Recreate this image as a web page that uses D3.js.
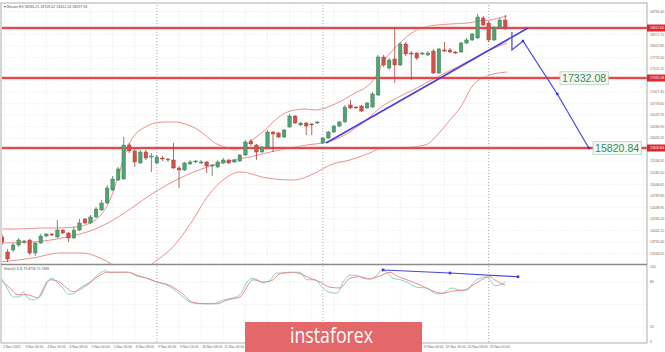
<!DOCTYPE html>
<html>
<head>
<meta charset="utf-8">
<script src="https://cdn.jsdelivr.net/npm/d3@7"></script>
<style>
body { margin: 0; background: #fff; }
svg { display: block; font-family: "Liberation Sans", Arial, sans-serif; }
</style>
</head>
<body>
<svg id="chart" width="665" height="352"></svg>
<script>
// Bitcoin H4 candles, bar 0 = 2 Nov 2020 00:00 (weekends skipped)
const firstBar = 2;
const openP = [13899,13575,13618,13726,13791,13834,13553,13769,13920,13964,13899,14050,13985,13877,14050,14288,14201,14331,14482,14633,
  14914,15130,15152,15886,15756,15497,15735,15627,15497,15605,15562,15562,15389,15346,15476,15519,15497,15519,15432,15411,
  15497,15562,15519,15540,15670,15972,15886,15735,15843,16167,16145,16059,16275,16512,16318,16361,16340,16361,15929,16037,
  16167,16296,16383,16750,16707,16728,16685,16707,16966,17787,17549,17744,17614,18068,17873,17873,17852,17830,17916,17441,
  17938,17938,17895,17895,18089,18154,18197,18629,18521,18154,18413,18586];
const highP = [13964,13640,13769,13877,13834,13856,13791,13964,13985,13985,14266,14072,14007,14115,14288,14309,14374,14547,14698,15022,
  15216,15411,16059,15929,15800,15778,15778,15713,15670,15648,15605,15929,15432,15519,15562,15562,15562,15540,15476,15562,
  15605,15584,15584,15692,15994,16016,15908,15864,16210,16188,16167,16232,16556,16534,16383,16383,16361,16404,16059,16188,
  16318,16404,16750,16858,16728,16750,16815,17031,17830,17830,17765,18413,18111,18111,17916,17895,17895,17916,17960,17981,
  18111,17981,17916,18111,18197,18305,18715,18672,18564,18456,18629,18694];
const lowP = [13726,13359,13575,13683,13748,13510,13488,13748,13899,13920,13877,13964,13791,13856,14028,14180,14180,14309,14460,14612,
  14892,15108,15130,15713,15411,15476,15562,15303,15476,15540,15519,15368,14957,15324,15454,15497,15476,15281,15216,15389,
  15476,15476,15497,15519,15648,15864,15562,15713,15821,15735,16037,16037,16253,16340,16296,16102,16102,16340,15908,16016,
  16145,16275,16361,16664,16664,16599,16664,16685,16944,17571,17506,17225,17592,17808,17290,17722,17830,17808,17420,17420,
  17895,17873,17852,17873,18068,18132,18176,18456,18111,18132,18392,18370];
const closeP = [13791,13424,13726,13834,13812,13553,13769,13920,13964,13942,14050,13985,13877,14050,14201,14201,14331,14504,14633,14957,
  15152,15368,15886,15756,15519,15735,15605,15648,15627,15584,15584,15389,15346,15497,15519,15540,15519,15432,15454,15519,
  15562,15497,15562,15670,15951,15908,15735,15843,16167,16124,16059,16210,16512,16361,16361,16296,16329,16383,16037,16167,
  16296,16383,16707,16685,16696,16620,16793,16988,17787,17614,17722,17614,18068,17852,17862,17765,17873,17873,17441,17960,
  17916,17895,17884,18089,18154,18284,18651,18478,18154,18413,18586,18413];

// Bollinger bands (bar, price)
const bbUpperBar = [1.6,5.2,8.9,11.9,15.2,17.9,19.7,21.5,22.8,23.9,24.8,26.0,27.9,29.7,31.5,33.3,35.1,36.9,38.7,40.5,42.3,44.1,45.9,47.7,49.6,51.4,53.2,55.0,56.8,58.6,60.4,62.2,64.0,65.8,67.6,69.4,70.9,72.7,74.5,77.0,79.4,83.0,86.1,88.4,90.2,92.6,93.3];
const bbUpper = [14072,14072,14093,14093,14115,14201,14352,14698,15130,15562,15864,16102,16275,16361,16383,16383,16340,16253,16102,15929,15843,15778,15864,16037,16210,16426,16577,16642,16664,16642,16685,16771,16879,17009,17117,17333,17679,17938,18154,18370,18456,18499,18521,18564,18586,18651,18672];
const bbMidBar = [1.6,7.6,13.7,18.4,22.1,25.7,28.8,31.8,35.4,39.1,43.8,46.8,50.5,54.1,57.1,60.8,64.0,66.7,68.5,70.3,73.4,77.0,80.7,84.3,88.4,90.2,93.3];
const bbMid = [13769,13791,13899,14050,14266,14547,14806,15022,15238,15411,15562,15627,15735,15821,15886,15951,16102,16318,16491,16685,16901,17117,17355,17571,17830,17938,18089];
const bbLowerBar = [1.6,7.6,12.5,16.6,19.7,21.5,24.2,26.9,29.3,32.9,36.5,39.1,42.7,45.0,49.9,54.6,59.0,61.3,64.9,68.5,70.3,74.0,78.5,81.2,83.0,84.8,87.2,89.7,93.3];
const bbLower = [13359,13445,13553,13553,13445,13334,13078,13100,13334,13683,14266,14763,15194,15303,15173,15130,15303,15454,15562,15713,15800,15821,15886,16167,16426,16685,17182,17376,17463];

// drawn objects
const levelPrice = [18412.60, 17332.08, 15820.84];
const levelNote = [null, '17332.08', '15820.84'];
const noteX = [null, 562, 595];
const trendBar = [60.6, 97.1];
const trendPrice = [15929, 18413];
const pathBar = [94.2, 94.2, 96.2, 102.4, 108.1];
const pathPrice = [18327, 17938, 18132, 16988, 15821];

// Stochastic (5,3,3)
const stochMainBar = [1.6,2.9,4.0,5.2,5.8,6.5,7.6,8.5,10.1,11.0,11.9,13.0,13.9,14.7,16.1,17.9,19.7,20.6,21.5,23.3,24.8,26.4,28.2,30.0,31.8,33.6,35.4,36.5,37.8,40.1,42.0,43.8,45.0,46.3,47.2,48.1,49.2,50.5,51.7,53.5,54.6,55.9,57.1,58.6,60.0,61.3,
  62.6,63.7,64.9,66.2,67.3,68.5,69.8,70.7,71.6,72.7,74.0,75.2,77.0,78.8,80.6,81.7,83.4,84.8,86.1,87.2,88.4,89.7,90.2,91.1,92.0,93.0];
const stochMain = [89,72,60,60,67,60,56,59,80,85,80,72,64,64,72,80,92,95,93,93,93,88,85,80,76,67,56,52,51,51,56,59,63,80,85,83,79,83,92,92,93,93,83,83,72,66,
  65,80,89,89,85,84,89,96,93,85,83,80,73,72,64,65,72,69,69,79,85,87,83,75,76,79.88];
const stochSigBar = [1.6,3.4,4.9,6.5,8.5,10.7,12.1,13.7,14.8,17.4,19.7,21.0,22.1,24.8,26.4,28.2,30.0,31.8,34.2,36.5,39.1,40.9,42.7,45.0,47.4,49.2,50.5,52.3,54.1,55.9,57.7,59.5,61.3,
  63.1,64.9,66.7,68.5,70.3,72.2,73.4,75.2,77.6,79.9,81.7,83.5,85.4,87.2,89.0,90.2,91.1,92.0,93.0];
const stochSig = [84,72,63,63,59,83,81,72,67,76,89,93,93,93,89,85,80,77,67,53,51,51,56,60,83,80,81,91,93,91,85,80,73,
  72,85,87,84,88,93,88,83,76,68,65,68,69,76,84,87,83,79,75.74];
const divBar = [70.9, 83.0, 95.3];
const divVal = [96, 92, 87];

// axes
const priceTicks = [18769.40,18520.55,18271.70,18022.85,17774.00,17525.15,17276.30,17027.45,16778.60,16529.75,16280.90,16032.05,
  15783.20,15534.35,15285.50,15036.65,14787.80,14538.95,14290.10,14041.25,13792.40,13543.55];
const stochTicks = [100, 80, 20, 0];
const timeBars = [6,10,14,18,22,26,30,34,38,42,46,50,54,58,62,66,70,74,78,82,86,90];
const timeLabels = ['3 Nov 00:00','3 Nov 16:00','4 Nov 08:00','5 Nov 00:00','5 Nov 16:00','6 Nov 08:00','9 Nov 00:00','9 Nov 16:00',
  '10 Nov 08:00','11 Nov 00:00','11 Nov 16:00','12 Nov 08:00','13 Nov 00:00','13 Nov 16:00','16 Nov 08:00','17 Nov 00:00',
  '17 Nov 16:00','18 Nov 08:00','19 Nov 00:00','19 Nov 16:00','20 Nov 08:00','23 Nov 00:00'];
const weekBars = [30, 60, 90];

const plotL = 2, plotR = 647, mainTop = 5, mainBot = 264, stochTop = 265, stochBot = 343;
const logo = { x: 245, y: 322, w: 177, h: 30 };

const svg = d3.select('#chart');
const x = d3.scaleLinear().domain([0, 100]).range([-9, 544]);
const y = d3.scaleLinear().domain([13402, 19017.8]).range([260, 0]);
const ys = d3.scaleLinear().domain([0, 100]).range([342, 267]);

const defs = svg.append('defs');
defs.append('clipPath').attr('id', 'clipMain').append('rect')
  .attr('x', plotL).attr('y', mainTop).attr('width', plotR - plotL).attr('height', mainBot - mainTop);
defs.append('clipPath').attr('id', 'clipStoch').append('rect')
  .attr('x', plotL).attr('y', stochTop).attr('width', plotR - plotL).attr('height', stochBot - stochTop);

// grid
const grid = svg.append('g').attr('stroke', '#ebebeb').attr('stroke-width', 0.6);
grid.selectAll('.hg').data(priceTicks).enter().append('line')
  .attr('x1', plotL).attr('x2', plotR).attr('y1', d => y(d)).attr('y2', d => y(d))
  .attr('stroke-dasharray', '2,1');
grid.selectAll('.vg').data(timeBars).enter().append('line')
  .attr('x1', d => x(d)).attr('x2', d => x(d)).attr('y1', mainTop).attr('y2', stochBot)
  .attr('stroke-dasharray', '2,1');
grid.selectAll('.sg').data([80, 50, 20]).enter().append('line')
  .attr('x1', plotL).attr('x2', plotR).attr('y1', d => ys(d)).attr('y2', d => ys(d))
  .attr('stroke-dasharray', '2,1');

// week separators
svg.append('g').selectAll('line').data(weekBars).enter().append('line')
  .attr('x1', d => x(d)).attr('x2', d => x(d)).attr('y1', mainTop).attr('y2', stochBot)
  .attr('stroke', '#999').attr('stroke-width', 0.8).attr('stroke-dasharray', '1,2');

const main = svg.append('g').attr('clip-path', 'url(#clipMain)');

// bollinger bands
const bandLine = (bars, vals) => d3.line().curve(d3.curveMonotoneX)
  .x((d, i) => x(bars[i])).y(d => y(d))(vals);
[[bbUpperBar, bbUpper], [bbMidBar, bbMid], [bbLowerBar, bbLower]].forEach(([b, v]) => {
  main.append('path').attr('d', bandLine(b, v))
    .attr('fill', 'none').attr('stroke', '#ef8f8f').attr('stroke-width', 1);
});

// horizontal levels
levelPrice.forEach(p => {
  main.append('line').attr('x1', 0).attr('x2', plotR).attr('y1', y(p)).attr('y2', y(p))
    .attr('stroke', '#f4b0b0').attr('stroke-width', 3);
  main.append('line').attr('x1', 0).attr('x2', plotR).attr('y1', y(p)).attr('y2', y(p))
    .attr('stroke', '#e2262b').attr('stroke-width', 1.5);
});

// candles
const candles = openP.map((o, k) => ({ bar: firstBar + k, o: o, h: highP[k], l: lowP[k], c: closeP[k] }));
const cg = main.append('g');
cg.selectAll('.wick').data(candles).enter().append('line')
  .attr('x1', d => x(d.bar)).attr('x2', d => x(d.bar))
  .attr('y1', d => y(d.h)).attr('y2', d => y(d.l))
  .attr('stroke', d => d.c >= d.o ? '#3f7d57' : '#b53a36').attr('stroke-width', 0.8);
cg.selectAll('.body').data(candles).enter().append('rect')
  .attr('x', d => x(d.bar) - 1.8).attr('width', 3.6)
  .attr('y', d => y(Math.max(d.o, d.c)))
  .attr('height', d => Math.max(1, Math.abs(y(d.o) - y(d.c))))
  .attr('fill', d => d.c >= d.o ? '#54a070' : '#d0504a')
  .attr('stroke', d => d.c >= d.o ? '#3f7d57' : '#b53a36').attr('stroke-width', 0.4);

// trend line and projection
main.append('line')
  .attr('x1', x(trendBar[0])).attr('y1', y(trendPrice[0]))
  .attr('x2', x(trendBar[1])).attr('y2', y(trendPrice[1]))
  .attr('stroke', '#4a3fdc').attr('stroke-width', 1.6);
main.append('path')
  .attr('d', d3.line().x((d, i) => x(pathBar[i])).y(d => y(d))(pathPrice))
  .attr('fill', 'none').attr('stroke', '#5050e0').attr('stroke-width', 1.3);
main.selectAll('.pm').data(pathPrice.slice(2)).enter().append('rect')
  .attr('x', (d, i) => x(pathBar[i + 2]) - 1.2).attr('y', d => y(d) - 1.2)
  .attr('width', 2.4).attr('height', 2.4).attr('fill', '#3a3ad0');

// stochastic
const st = svg.append('g').attr('clip-path', 'url(#clipStoch)');
st.append('path')
  .attr('d', d3.line().curve(d3.curveMonotoneX).x((d, i) => x(stochMainBar[i])).y(d => ys(d))(stochMain))
  .attr('fill', 'none').attr('stroke', '#84d3cb').attr('stroke-width', 1);
st.append('path')
  .attr('d', d3.line().curve(d3.curveMonotoneX).x((d, i) => x(stochSigBar[i])).y(d => ys(d))(stochSig))
  .attr('fill', 'none').attr('stroke', '#ec8a8a').attr('stroke-width', 1);
st.append('path')
  .attr('d', d3.line().x((d, i) => x(divBar[i])).y(d => ys(d))(divVal))
  .attr('fill', 'none').attr('stroke', '#4848dc').attr('stroke-width', 1.2);
st.selectAll('.dm').data(divVal).enter().append('rect')
  .attr('x', (d, i) => x(divBar[i]) - 1.3).attr('y', d => ys(d) - 1.3)
  .attr('width', 2.6).attr('height', 2.6).attr('fill', '#3a3ad0');

// frame and pane separator
svg.append('rect').attr('x', 1).attr('y', 3).attr('width', plotR - 1).attr('height', stochBot - 3)
  .attr('fill', 'none').attr('stroke', '#9a9a9a').attr('stroke-width', 0.8);
svg.append('line').attr('x1', 1).attr('x2', plotR).attr('y1', 264.5).attr('y2', 264.5)
  .attr('stroke', '#8c8c8c').attr('stroke-width', 1.6);

// right price axis (ticks hidden where a level label sits)
const ax = svg.append('g').attr('font-size', 3.4).attr('fill', '#6a6a6a');
const freeTicks = priceTicks.filter(d => levelPrice.every(p => Math.abs(y(d) - y(p)) > 5));
ax.selectAll('text.p').data(freeTicks).enter().append('text')
  .attr('x', 650).attr('y', d => y(d) + 1.2).text(d => d.toFixed(2));
ax.selectAll('text.s').data(stochTicks).enter().append('text')
  .attr('x', 650).attr('y', d => ys(d) + 1.2).text(d => d);
levelPrice.forEach(p => {
  svg.append('rect').attr('x', plotR).attr('y', y(p) - 3.5).attr('width', 665 - plotR).attr('height', 7).attr('fill', '#e2262b');
  svg.append('text').attr('x', 650).attr('y', y(p) + 1.2).attr('font-size', 3.4).attr('fill', '#fff').text(p.toFixed(2));
});

// level notes
levelPrice.forEach((p, i) => {
  if (!levelNote[i]) return;
  const g = svg.append('g');
  const t = g.append('text').attr('x', noteX[i]).attr('y', y(p) + 4.2)
    .attr('font-size', 10.6).attr('fill', '#3d8a5e').text(levelNote[i]);
  const bb = t.node().getBBox();
  g.insert('rect', 'text').attr('x', bb.x - 2).attr('y', bb.y - 0.5)
    .attr('width', bb.width + 4).attr('height', bb.height + 1)
    .attr('fill', '#f2f8f2').attr('stroke', '#a8cfb4').attr('stroke-width', 0.7);
});

// time axis (labels under the watermark are hidden there)
const tx = svg.append('g').attr('font-size', 3.4).attr('fill', '#6a6a6a');
tx.append('text').attr('x', 3).attr('y', 347.5).text('2 Nov 2020');
tx.selectAll('text.t').data(timeBars.filter(d => x(d) < logo.x - 20 || x(d) > logo.x + logo.w)).enter().append('text')
  .attr('x', d => x(d) + 1).attr('y', 347.5).text(d => timeLabels[timeBars.indexOf(d)]);

// pane titles
svg.append('text').attr('x', 4).attr('y', 7.5).attr('font-size', 3.6).attr('fill', '#555')
  .text('\u25BE Bitcoin,H4  18586.21 18709.02 18412.24 18597.90');
svg.append('text').attr('x', 4).attr('y', 269.5).attr('font-size', 3.4).attr('fill', '#555')
  .text('Stoch(5,3,3) 79.8756 75.7398');

// watermark logo
svg.append('rect').attr('x', logo.x).attr('y', logo.y).attr('width', logo.w).attr('height', logo.h).attr('fill', '#e4676a');
svg.append('text').attr('x', 290).attr('y', 343).attr('font-family', '"Open Sans", sans-serif')
  .attr('font-size', 21).attr('fill', '#fff').attr('textLength', 83).attr('lengthAdjust', 'spacingAndGlyphs')
  .text('instaforex');
</script>
</body>
</html>
